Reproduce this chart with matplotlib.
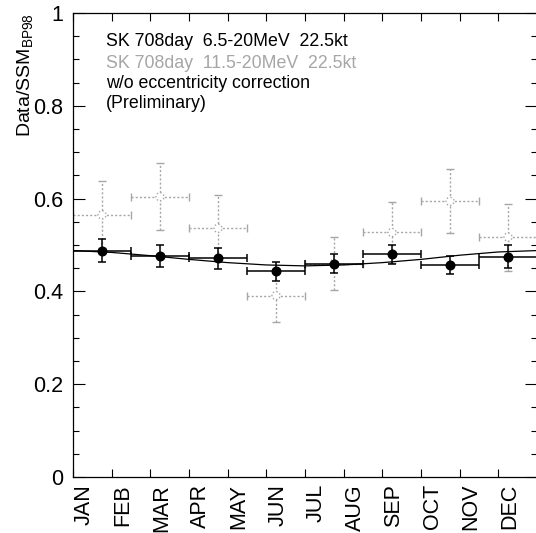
import numpy as np
import matplotlib
matplotlib.use("Agg")
import matplotlib.pyplot as plt
import matplotlib.transforms as mtrans

plt.rcParams['font.family'] = ['Liberation Sans', 'DejaVu Sans']
plt.rcParams['mathtext.fontset'] = 'custom'
plt.rcParams['mathtext.rm'] = 'Liberation Sans'
plt.rcParams['mathtext.it'] = 'Liberation Sans'

months = ["JAN", "FEB", "MAR", "APR", "MAY", "JUN", "JUL", "AUG", "SEP", "OCT", "NOV", "DEC"]

# 8 bins of 1.5 months
bin_centers = [0.75, 2.25, 3.75, 5.25, 6.75, 8.25, 9.75, 11.25]
bin_halfwidth = [0.75] * 8

low_vals = [0.488, 0.477, 0.471, 0.443, 0.460, 0.480, 0.457, 0.475]
low_errs = [0.024, 0.024, 0.023, 0.021, 0.020, 0.021, 0.020, 0.024]

high_vals = [0.565, 0.604, 0.536, 0.391, 0.460, 0.527, 0.594, 0.517]
high_errs = [0.072, 0.072, 0.071, 0.058, 0.058, 0.066, 0.069, 0.072]

curve_x = [0, 1, 2, 3, 4, 5, 6, 7, 8, 9, 10, 11, 12]
curve_y = [0.488, 0.484, 0.477, 0.469, 0.462, 0.457, 0.455, 0.457, 0.462, 0.469, 0.478, 0.485, 0.488]

W, H = 536, 533
fig = plt.figure(figsize=(W / 100, H / 100), dpi=100)
L, R, T, B = 73, 537, 13, 477
ax = fig.add_axes([L / W, (H - B) / H, (R - L) / W, (B - T) / H])

gray = '#a6a6a6'

# high threshold (gray, dotted)
eb2 = ax.errorbar(bin_centers, high_vals, xerr=bin_halfwidth, yerr=high_errs,
                  fmt='none', ecolor=gray, elinewidth=1.0, capsize=3.2,
                  capthick=1.0, zorder=2)
for lc in eb2[2]:
    lc.set_linestyle((0, (1.5, 1.5)))
ax.scatter(bin_centers, high_vals, s=34, facecolors='white', edgecolors=gray,
           linewidths=1.0, linestyles=':', zorder=3)

# expectation curve
ax.plot(curve_x, curve_y, color='black', lw=0.9, zorder=4)

# low threshold (black)
ax.errorbar(bin_centers, low_vals, xerr=bin_halfwidth, yerr=low_errs,
            fmt='o', color='black', ms=6.2, ecolor='black', elinewidth=1.1,
            capsize=3.2, capthick=1.1, zorder=5)

ax.set_xlim(0, 12)
ax.set_ylim(0, 1)

for s in ax.spines.values():
    s.set_linewidth(0.9)

ax.set_xticks(np.arange(0, 13))
ax.set_xticklabels([])
ax.set_yticks([0, 0.2, 0.4, 0.6, 0.8, 1.0])
ax.set_yticklabels(["0", "0.2", "0.4", "0.6", "0.8", "1"])
ax.set_yticks(np.arange(0, 1.0001, 0.05), minor=True)
ax.tick_params(axis='y', which='major', direction='in', length=8.5, width=0.8,
               right=True, labelsize=15.5, pad=7)
ax.tick_params(axis='y', which='minor', direction='in', length=4.3, width=0.8,
               right=True)
ax.tick_params(axis='x', which='major', direction='in', length=6, width=0.8,
               top=True)
ax.tick_params(axis='x', which='minor', length=0)

off = mtrans.ScaledTranslation(-8 / 100, -7 / 100, fig.dpi_scale_trans)
trans = mtrans.blended_transform_factory(ax.transData, ax.transAxes) + off
for i, m in enumerate(months):
    ax.text(i + 0.5, 0, m, transform=trans, rotation=90, ha='center', va='top',
            fontsize=15.5)

# y label
fig.text(15 / W, 1 - 13 / H, r'Data/SSM$_{\mathregular{BP98}}$', rotation=90,
         ha='left', va='top', fontsize=14)

# annotations
tx = (106 - L) / (R - L)
lines = [("SK 708day  6.5-20MeV  22.5kt", 'black', 42),
         ("SK 708day  11.5-20MeV  22.5kt", gray, 63),
         ("w/o eccentricity correction", 'black', 83),
         ("(Preliminary)", 'black', 103)]
for txt, c, yc in lines:
    ax.text(tx, (B - yc) / (B - T), txt, transform=ax.transAxes, color=c,
            fontsize=12.8, ha='left', va='center')

fig.savefig("out.png", dpi=100)
